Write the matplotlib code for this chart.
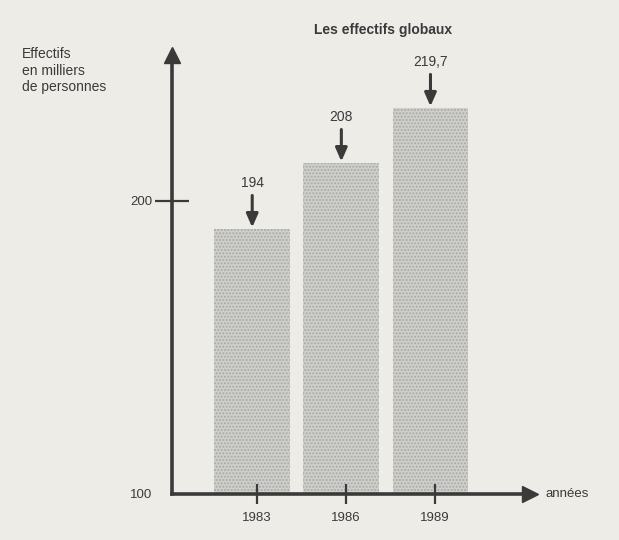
import matplotlib
matplotlib.use("Agg")
import matplotlib.pyplot as plt

plt.rcParams['font.family'] = ['Liberation Sans', 'DejaVu Sans']
plt.rcParams['hatch.linewidth'] = 1.0

years = [1983, 1986, 1989]
values = [194, 208, 219.7]
value_labels = ["194", "208", "219,7"]
ytick_labels = ["100", "200"]
title = "Les effectifs globaux"
ylabel = "Effectifs\nen milliers\nde personnes"
xlabel = "années"

paper = '#edece7'
ink = '#3a3a3a'

fig = plt.figure(figsize=(6.19, 5.40), dpi=100, facecolor=paper)
W, H = 619, 540
x0, x1, yb, yt = 172, 530, 494, 55
ax = fig.add_axes([x0 / W, 1 - yb / H, (x1 - x0) / W, (yb - yt) / H])
ax.set_facecolor(paper)

ybase = 137.7
ax.set_ylim(ybase, 230.9)
ax.set_xlim(1980.15, 1992.2)

bar_x = [y - 0.15 for y in years]
ax.bar(bar_x, [v - ybase for v in values], bottom=ybase, width=2.55,
       color='#cfcfcb', edgecolor='#a9a9a6', linewidth=0, hatch='.....', zorder=1)

for s in ['top', 'right']:
    ax.spines[s].set_visible(False)
for s in ['left', 'bottom']:
    ax.spines[s].set_color(ink)
    ax.spines[s].set_linewidth(2.6)

ax.set_xticks(years)
ax.set_xticklabels([str(y) for y in years], fontsize=9.5, color=ink)
ax.set_yticks([ybase, 200])
ax.set_yticklabels(ytick_labels, fontsize=9.5, color=ink)
ax.tick_params(axis='x', direction='inout', length=14, width=1.6, color=ink, pad=6)
ax.tick_params(axis='y', direction='inout', length=24, width=1.6, color=ink, pad=2)
ax.yaxis.get_major_ticks()[0].tick1line.set_visible(False)

# axis arrow heads
ax.plot([0], [1], marker='^', markersize=11, color=ink, transform=ax.transAxes, clip_on=False)
ax.plot([1], [0], marker='>', markersize=11, color=ink, transform=ax.transAxes, clip_on=False)

for x, v, lab in zip(bar_x, values, value_labels):
    ax.annotate(lab, xy=(x, v), xytext=(0, 28), textcoords='offset points',
                ha='center', va='bottom', fontsize=10, color=ink,
                arrowprops=dict(arrowstyle='-|>,head_length=0.8,head_width=0.35',
                                color=ink, lw=2.2, shrinkA=2, shrinkB=1))

fig.text(383 / W, 1 - 30 / H, title, ha='center', va='center', fontsize=10,
         fontweight='bold', color=ink)
fig.text(22 / W, 1 - 47 / H, ylabel, ha='left', va='top', fontsize=10,
         color=ink, linespacing=1.25)
fig.text(545 / W, 1 - 494 / H, xlabel, ha='left', va='center', fontsize=9.5,
         color=ink)

fig.savefig("out.png", dpi=100, facecolor=paper)
